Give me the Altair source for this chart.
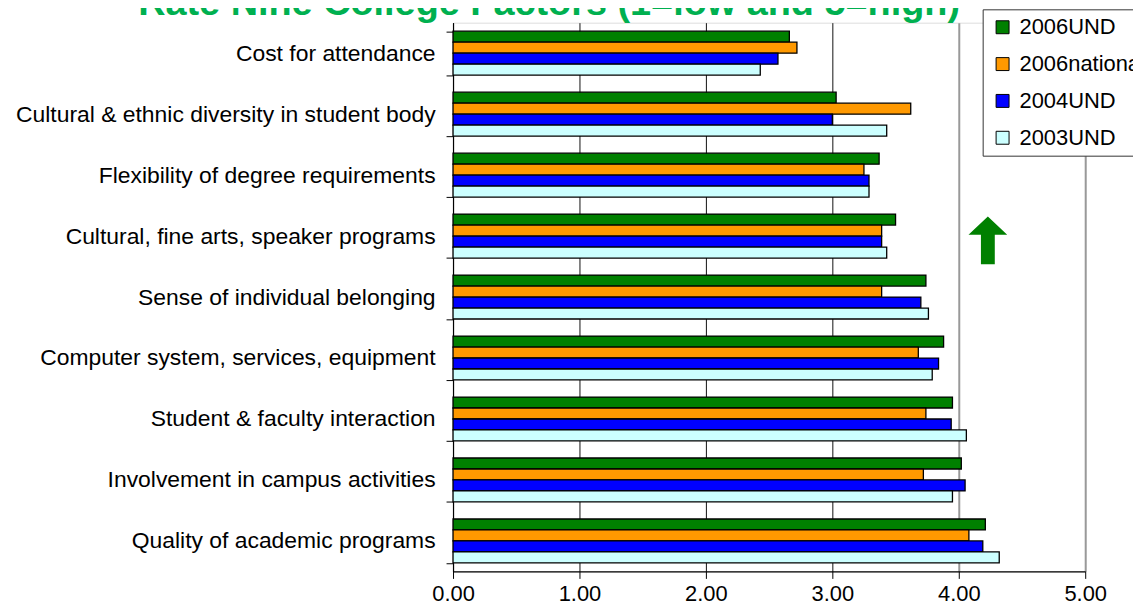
import altair as alt
import pandas as pd

categories = [
    "Cost for attendance",
    "Cultural & ethnic diversity in student body",
    "Flexibility of degree requirements",
    "Cultural, fine arts, speaker programs",
    "Sense of individual belonging",
    "Computer system, services, equipment",
    "Student & faculty interaction",
    "Involvement in campus activities",
    "Quality of academic programs",
]
series = ["2006UND", "2006national", "2004UND", "2003UND"]
und2006 = [2.66, 3.03, 3.37, 3.50, 3.74, 3.88, 3.95, 4.02, 4.21]
national2006 = [2.72, 3.62, 3.25, 3.39, 3.39, 3.68, 3.74, 3.72, 4.08]
und2004 = [2.57, 3.00, 3.29, 3.39, 3.70, 3.84, 3.94, 4.05, 4.19]
und2003 = [2.43, 3.43, 3.29, 3.43, 3.76, 3.79, 4.06, 3.95, 4.32]
colors = ["#008000", "#FF9900", "#0000FF", "#CCFFFF"]
x_ticks = [0, 1, 2, 3, 4, 5]
title_text = ["Rate Nine College Factors (1=low and 5=high)"]

# arrow marker (decoration) position in data terms
arrow_value = [4.23]
arrow_category = ["Cultural, fine arts, speaker programs"]

rows = []
for s, vals in zip(series, [und2006, national2006, und2004, und2003]):
    for c, v in zip(categories, vals):
        rows.append({"category": c, "series": s, "value": v})
df = pd.DataFrame(rows)
arrow_df = pd.DataFrame({"category": arrow_category, "value": arrow_value})
title_df = pd.DataFrame({"title": title_text})

FONT = "Liberation Sans"

x_axis = alt.Axis(
    values=x_ticks,
    format=".2f",
    title=None,
    labelFont=FONT,
    labelFontSize=22,
    labelColor="black",
    labelFlush=False,
    labelPadding=5,
    domainColor="black",
    domainWidth=1.2,
    tickColor="black",
    tickSize=7,
    gridColor=alt.condition("datum.value >= 4", alt.value("#999999"), alt.value("#111111")),
    gridWidth=alt.condition("datum.value >= 4", alt.value(2), alt.value(1)),
)
y_axis = alt.Axis(
    title=None,
    labelFont=FONT,
    labelFontSize=23,
    labelColor="black",
    labelPadding=11,
    labelLimit=800,
    domainColor="black",
    domainWidth=1.2,
    tickColor="black",
    tickSize=7,
    tickBand="extent",
)

bars = alt.Chart(df).mark_bar(stroke="black", strokeWidth=1.3).encode(
    x=alt.X("value:Q", scale=alt.Scale(domain=[0, 5], nice=False), axis=x_axis),
    y=alt.Y("category:N", sort=categories,
            scale=alt.Scale(paddingInner=0.28, paddingOuter=0.14), axis=y_axis),
    yOffset=alt.YOffset("series:N", sort=series,
                        scale=alt.Scale(paddingInner=0, paddingOuter=0)),
    color=alt.Color(
        "series:N",
        sort=series,
        scale=alt.Scale(domain=series, range=colors),
        legend=alt.Legend(
            title=None,
            orient="none",
            legendX=532,
            legendY=-13.4,
            symbolType="square",
            symbolSize=169,
            symbolStrokeColor="black",
            symbolStrokeWidth=1,
            symbolOffset=2,
            labelFont=FONT,
            labelFontSize=22,
            labelColor="black",
            labelOffset=6,
            labelLimit=400,
            rowPadding=15,
            padding=7,
            strokeColor="#333333",
            fillColor="white",
        ),
    ),
)

arrow = alt.Chart(arrow_df).mark_point(
    shape="M0,-1L0.81,-0.24L0.29,-0.24L0.29,1L-0.29,1L-0.29,-0.24L-0.81,-0.24Z",
    size=2304,
    filled=True,
    color="#008000",
    opacity=1,
).encode(
    x=alt.X("value:Q"),
    y=alt.Y("category:N", sort=categories, bandPosition=0.6),
)

title = alt.Chart(title_df).mark_text(
    font=FONT,
    fontSize=38,
    fontWeight="bold",
    color="#00B050",
    align="center",
    baseline="alphabetic",
).encode(
    text="title:N",
    x=alt.value(96.5),
    y=alt.value(-7.4),
)

chart = alt.layer(bars, arrow, title).properties(
    width=635,
    height=551.2,
    autosize=alt.AutoSizeParams(type="none"),
    padding={"left": 447, "top": 13.4, "right": 48, "bottom": 35.4},
).configure_view(stroke="#999999", strokeWidth=1.5).configure(font=FONT)

chart.save("out.html", embed_options={"renderer": "svg", "actions": False})
